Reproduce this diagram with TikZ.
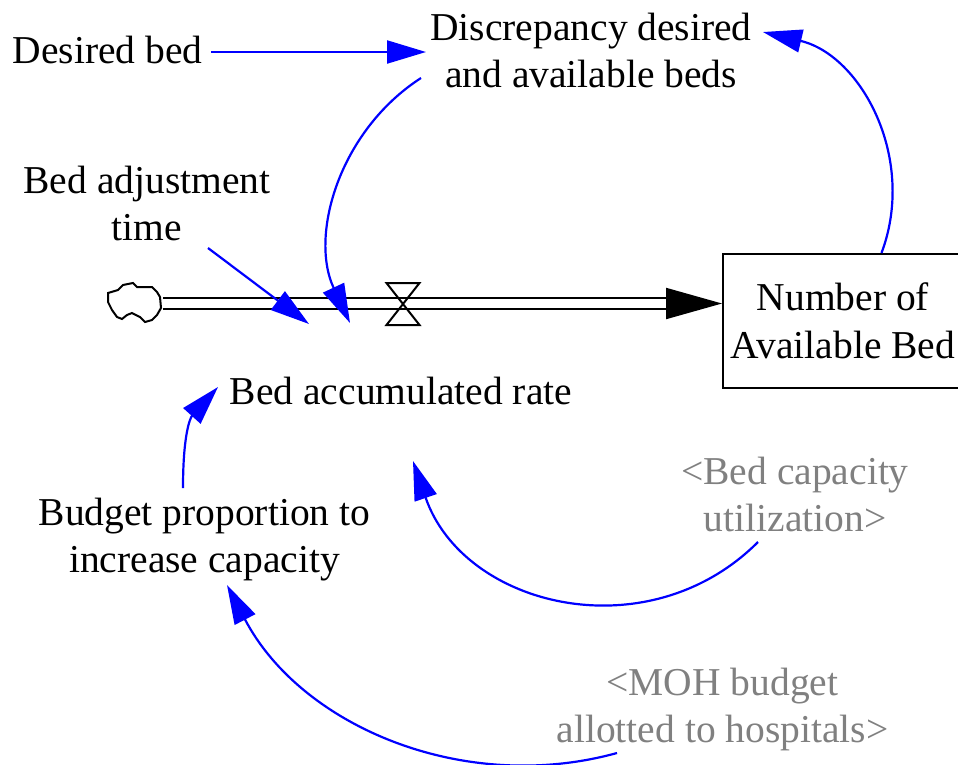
\documentclass[tikz,border=0pt]{standalone}
\usepackage{fontspec}
\setmainfont{Liberation Serif}
\usetikzlibrary{arrows.meta}
\definecolor{linkblue}{RGB}{0,0,255}
\definecolor{shadowgray}{RGB}{128,128,128}
\begin{document}
\begin{tikzpicture}[x=1pt,y=-1pt,
  every node/.style={font=\fontsize{39.5}{47.5}\selectfont, inner sep=0pt, align=center},
  var/.style={text=black},
  shadowvar/.style={text=shadowgray},
  link/.style={draw=linkblue, line width=2.2pt, -{Triangle[length=39pt,width=23pt]}},
  stockbox/.style={draw, line width=2pt, minimum width=240pt, minimum height=134pt},
  pipe/.style={draw, line width=2pt, double distance=9pt, -{Triangle[length=56pt,width=31pt]}},
  valveshape/.style={draw, line width=2pt},
  cloudline/.style={draw, line width=2pt, line join=miter},
]
\useasboundingbox (0,0) rectangle (958,764);
\clip (0,0) rectangle (958,764);

% variables
\node[var] (desired) at (107.5,49.5) {Desired bed};
\node[var] (disc) at (591,50.5) {Discrepancy desired\\and available beds};
\node[var] (adj) at (147,203.5) {Bed adjustment\\time};
\node[var] (rate) at (401,390.5) {Bed accumulated rate};
\node[stockbox] (stock) at (843,321) {Number of\\Available Bed};
\node[var] (budget) at (204.5,539.3) {Budget proportion to\\increase capacity};
\node[shadowvar] (util) at (795,494.5) {<Bed capacity\\utilization>};
\node[shadowvar] (moh) at (722.5,709.3) {<MOH budget\\allotted to hospitals>};

% source cloud
\node[minimum width=52pt, minimum height=38pt] (cloud) at (134,303.5) {};
\draw[cloudline] (108,293) -- (118,290) -- (123,285) -- (133,283) -- (137,287)
  -- (152,287) -- (157,292) -- (160,297) -- (161,308) -- (157,315) -- (152,320)
  -- (145,322) -- (140,317) -- (132,313) -- (127,315) -- (122,319) -- (117,317)
  -- (112,310) -- (108,302) -- cycle;

% flow pipe into the stock
\draw[pipe] ([shift={(3,0)}]cloud.east) -- (cloud.east -| stock.west);

% valve
\coordinate (valve) at (403,304);
\draw[valveshape] ([shift={(-16.5,-21)}]valve) -- ([shift={(16.5,-21)}]valve)
  -- ([shift={(-16.5,21)}]valve) -- ([shift={(16.5,21)}]valve) -- cycle;

% causal links
\draw[link] ([shift={(103.5,2.5)}]desired.center) -- ([shift={(-165,1.5)}]disc.center);
\draw[link] ([shift={(-170,27.5)}]disc.center)
  .. controls +(-81.5,52.6) and +(-41,-87.9) .. ([shift={(-51,-67.5)}]rate.center);
\draw[link] ([shift={(61,44.5)}]adj.center) -- ([shift={(-92,-66.5)}]rate.center);
\draw[link] ([shift={(38.5,0)}]stock.north)
  .. controls +(35.5,-94.5) and +(98.2,23.2) .. ([shift={(172,-18.5)}]disc.center);
\draw[link] ([shift={(-21.5,-51.3)}]budget.center)
  .. controls +(0,-53) and +(-28,31) .. ([shift={(-183,-3.5)}]rate.center);
\draw[link] ([shift={(-37,47.5)}]util.center)
  .. controls +(-110,110) and +(50.5,146.6) .. ([shift={(12,70.5)}]rate.center);
\draw[link] ([shift={(-105.5,43.7)}]moh.center)
  .. controls +(-153.5,42.3) and +(73.7,141) .. ([shift={(22.5,45.7)}]budget.center);
\end{tikzpicture}
\end{document}
